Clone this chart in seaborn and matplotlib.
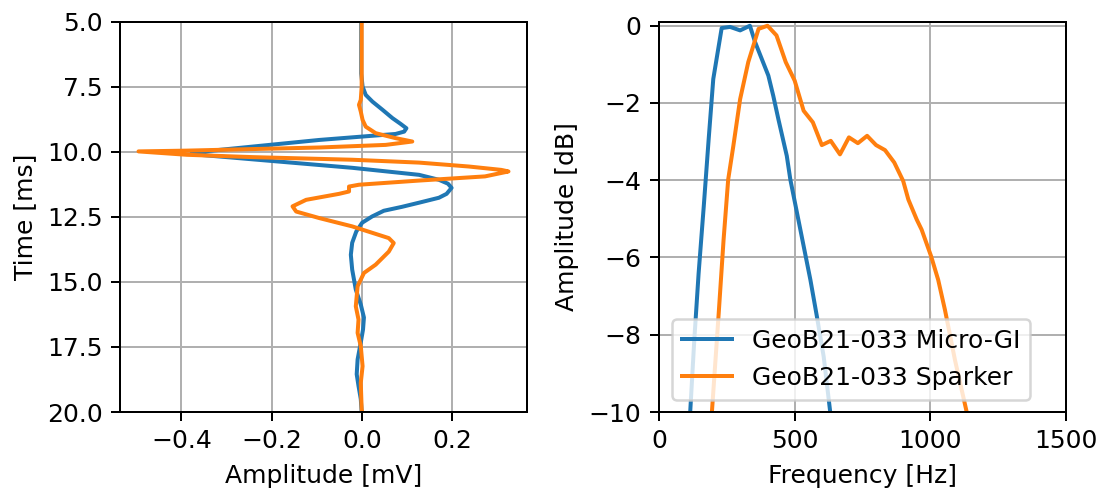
import matplotlib
matplotlib.use("Agg")
import matplotlib.pyplot as plt
import pandas as pd
import seaborn as sns

# Source wavelets: time [ms] and amplitude [mV]
gi_time = [5.0, 7.0, 7.5, 7.82, 8.08, 8.39, 8.71, 8.93, 9.1, 9.23, 9.32, 9.39, 9.55,
           9.74, 9.93, 10.04, 10.12, 10.35, 10.62, 10.89, 11.08, 11.23, 11.39, 11.62,
           11.77, 11.96, 12.12, 12.27, 12.49, 12.73, 13.07, 13.5, 13.96, 14.53, 15.3,
           15.87, 16.37, 16.83, 17.33, 17.98, 18.55, 19.0, 19.5, 20.0]
gi_amp = [-0.002, -0.002, 0.001, 0.008, 0.023, 0.045, 0.067, 0.085, 0.098, 0.093,
          0.074, 0.022, -0.095, -0.205, -0.315, -0.377, -0.36, -0.205, -0.022, 0.126,
          0.17, 0.19, 0.198, 0.187, 0.17, 0.126, 0.088, 0.048, 0.022, 0.0, -0.013,
          -0.022, -0.025, -0.022, -0.014, -0.003, 0.004, 0.002, -0.003, -0.01, -0.012,
          -0.008, -0.003, -0.001]

sp_time = [5.0, 7.5, 8.01, 8.2, 8.46, 8.78, 9.04, 9.29, 9.48, 9.61, 9.74, 9.84, 9.9,
           9.96, 9.99, 10.12, 10.21, 10.31, 10.42, 10.57, 10.70, 10.76, 10.95, 11.11,
           11.27, 11.34, 11.53, 11.62, 11.85, 12.1, 12.3, 12.55, 12.87, 13.12, 13.32,
           13.51, 13.84, 14.34, 14.66, 15.17, 15.94, 16.45, 16.96, 17.47, 18.24, 18.88,
           19.9, 20.0]
sp_amp = [-0.001, -0.001, -0.003, -0.007, -0.003, 0.001, 0.008, 0.03, 0.074, 0.111,
          0.052, -0.095, -0.242, -0.388, -0.495, -0.388, -0.242, -0.022, 0.126, 0.236,
          0.308, 0.324, 0.272, 0.126, -0.007, -0.029, -0.029, -0.051, -0.124, -0.154,
          -0.146, -0.095, -0.022, 0.023, 0.059, 0.07, 0.059, 0.03, 0.004, -0.01, -0.014,
          -0.008, -0.01, -0.003, 0.001, -0.003, -0.001, 0.0]

# Amplitude spectra: frequency [Hz] and normalised amplitude [dB]
gi_freq = [115, 130, 146, 165, 183, 200, 231, 262, 299, 335, 354, 403, 421, 440, 471,
           484, 521, 558, 582, 607, 631]
gi_db = [-10.0, -8.14, -6.41, -4.67, -2.94, -1.38, -0.06, -0.03, -0.12, 0.0, -0.42,
         -1.29, -1.81, -2.42, -3.37, -3.98, -5.28, -6.58, -7.53, -8.57, -10.0]

sp_freq = [195, 220, 238, 255, 274, 299, 329, 367, 400, 433, 467, 500, 533, 567, 600,
           633, 667, 700, 733, 767, 800, 833, 867, 900, 919, 950, 968, 1003, 1029, 1054,
           1091, 1134]
sp_db = [-10.0, -7.45, -5.54, -3.98, -3.11, -1.9, -0.94, -0.08, 0.0, -0.25, -0.94,
         -1.42, -2.2, -2.5, -3.09, -2.98, -3.33, -2.89, -3.04, -2.85, -3.09, -3.22,
         -3.54, -4.02, -4.5, -5.02, -5.28, -5.97, -6.58, -7.36, -8.66, -10.0]

labels = ["GeoB21-033 Micro-GI", "GeoB21-033 Sparker"]
colors = ["#1f77b4", "#ff7f0e"]

wavelets = pd.concat([
    pd.DataFrame({"time": gi_time, "amp": gi_amp, "source": labels[0]}),
    pd.DataFrame({"time": sp_time, "amp": sp_amp, "source": labels[1]}),
])
spectra = pd.concat([
    pd.DataFrame({"freq": gi_freq, "db": gi_db, "source": labels[0]}),
    pd.DataFrame({"freq": sp_freq, "db": sp_db, "source": labels[1]}),
])

fig, (ax1, ax2) = plt.subplots(1, 2, figsize=(1103 / 180, 490 / 180), dpi=180)

sns.lineplot(data=wavelets, x="amp", y="time", hue="source", palette=colors,
             orient="y", estimator=None, ax=ax1, legend=False, linewidth=1.6)
ax1.set_ylim(20, 5)
ax1.set_xlabel("Amplitude [mV]")
ax1.set_ylabel("Time [ms]")
ax1.grid(True)

sns.lineplot(data=spectra, x="freq", y="db", hue="source", palette=colors,
             estimator=None, ax=ax2, linewidth=1.6)
ax2.set_xlim(0, 1500)
ax2.set_ylim(-10, 0.11)
ax2.set_xticks([0, 500, 1000, 1500])
ax2.set_xlabel("Frequency [Hz]")
ax2.set_ylabel("Amplitude [dB]")
ax2.grid(True)
ax2.legend(loc="lower left", title=None)

# Axes placement in figure coordinates
y0, y1 = 1 - 412 / 490, 1 - 21.5 / 490
ax1.set_position([120 / 1103, y0, (527 - 120) / 1103, y1 - y0])
ax2.set_position([659 / 1103, y0, (1066 - 659) / 1103, y1 - y0])

fig.savefig("out.png", dpi=180)
